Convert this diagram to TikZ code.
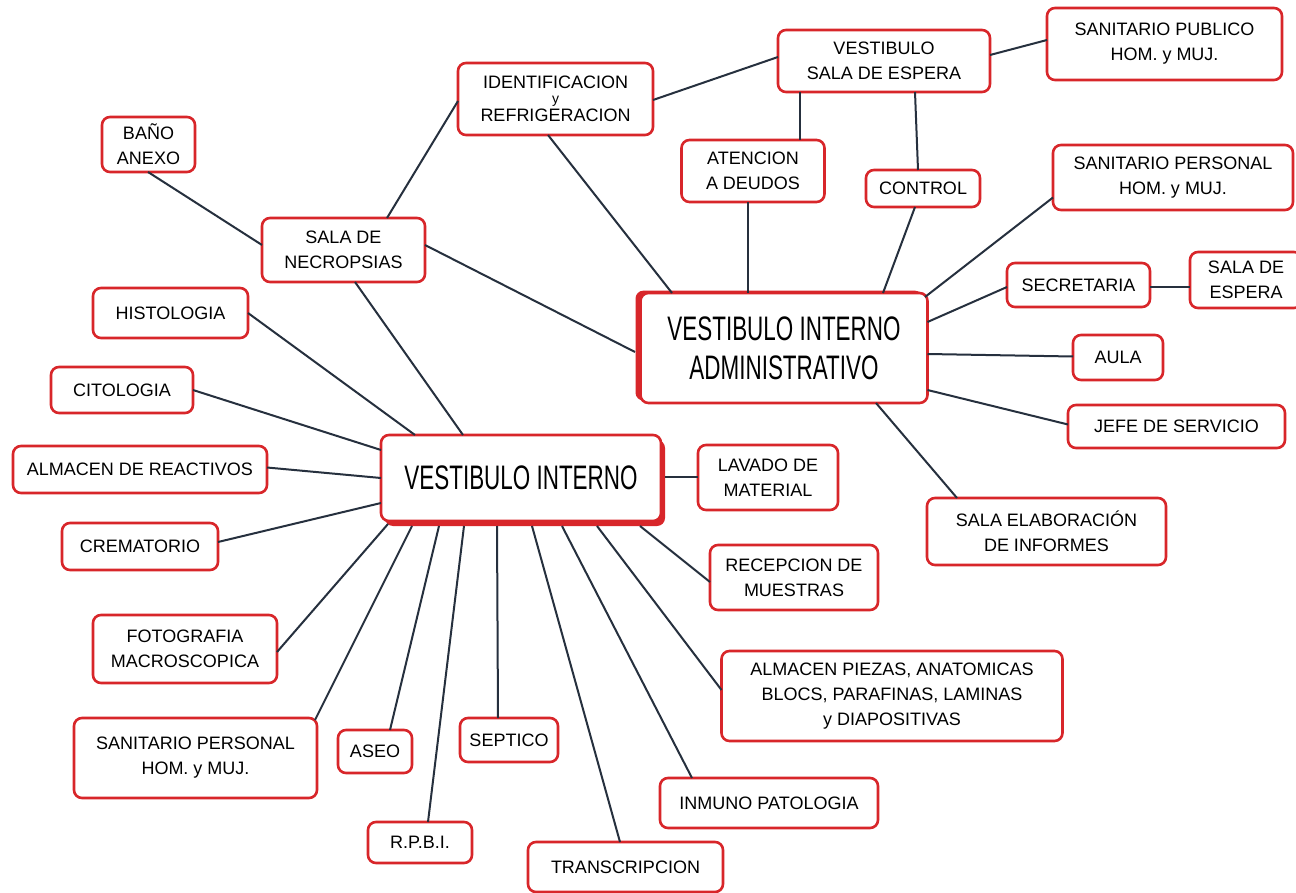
\documentclass[tikz,border=0pt]{standalone}
\usepackage{fontspec}
\setmainfont{Liberation Sans}
\newfontfamily\bigfont[FakeStretch=0.66]{Liberation Sans}
\usetikzlibrary{shadows}
\definecolor{boxred}{HTML}{D8262A}
\definecolor{ink}{HTML}{26303E}
\tikzset{
  bx/.style={draw=boxred, line width=1.3pt, rounded corners=4pt, fill=white,
    align=center, inner sep=0pt, text=black, font=\fontsize{9}{12.5}\selectfont},
  boxsize/.style 2 args={minimum width=#1*0.5pt, minimum height=#2*0.5pt},
  hub/.style={font=\bigfont\fontsize{17}{19.5}\selectfont},
  link/.style={draw=ink, line width=1pt},
}
\begin{document}
\begin{tikzpicture}[x=0.5pt,y=-0.5pt]
\fill[white] (0,0) rectangle (1296,893);
\useasboundingbox (0,0) rectangle (1296,893);

% top / right cluster
\node[bx, boxsize={195}{72}, font=\fontsize{9}{7.5}\selectfont] (ident) at (555.5,99) {IDENTIFICACION\\{\scriptsize y}\\REFRIGERACION};
\node[bx, boxsize={212}{62}] (vsala) at (884,61) {VESTIBULO\\SALA DE ESPERA};
\node[bx, boxsize={235}{72}] (sanpub) at (1164.5,44) {SANITARIO PUBLICO\\HOM. y MUJ.};
\node[bx, boxsize={143}{62}] (atencion) at (753,171) {ATENCION\\A DEUDOS};
\node[bx, boxsize={114}{37}] (control) at (923,188.5) {CONTROL};
\node[bx, boxsize={240}{65}] (sanperR) at (1173,177.5) {SANITARIO PERSONAL\\HOM. y MUJ.};
\node[bx, boxsize={143}{44}] (secre) at (1078.5,285) {SECRETARIA};
\node[bx, boxsize={112}{56}] (espera) at (1246,280) {SALA DE\\ESPERA};
\node[bx, boxsize={90}{45}] (aula) at (1118,357.5) {AULA};
\node[bx, boxsize={217}{43}] (jefe) at (1176.5,426.5) {JEFE DE SERVICIO};
\node[bx, boxsize={239}{67}] (elab) at (1046.5,531.5) {SALA ELABORACIÓN\\DE INFORMES};
\node[bx, hub, boxsize={287}{110},
  general shadow={shadow xshift=-2.5pt, shadow yshift=1.2pt, fill=boxred}] (via) at (784,348) {VESTIBULO INTERNO\\ADMINISTRATIVO};

% left / bottom cluster
\node[bx, boxsize={93}{55}] (bano) at (148.5,144.5) {BAÑO\\ANEXO};
\node[bx, boxsize={163}{64}] (necro) at (343.5,250) {SALA DE\\NECROPSIAS};
\node[bx, boxsize={155}{50}] (histo) at (170.5,313) {HISTOLOGIA};
\node[bx, boxsize={142}{46}] (cito) at (122,390) {CITOLOGIA};
\node[bx, boxsize={254}{47}] (react) at (140,469.5) {ALMACEN DE REACTIVOS};
\node[bx, hub, boxsize={280}{86},
  general shadow={shadow xshift=2pt, shadow yshift=-2.5pt, fill=boxred}] (vi) at (521,478) {VESTIBULO INTERNO};
\node[bx, boxsize={140}{65}] (lavado) at (768,477.5) {LAVADO DE\\MATERIAL};
\node[bx, boxsize={156}{47}] (crema) at (140,546.5) {CREMATORIO};
\node[bx, boxsize={168}{65}] (recep) at (794,577.5) {RECEPCION DE\\MUESTRAS};
\node[bx, boxsize={184}{68}] (foto) at (185,649) {FOTOGRAFIA\\MACROSCOPICA};
\node[bx, boxsize={341}{90}] (piezas) at (892,696) {ALMACEN PIEZAS, ANATOMICAS\\BLOCS, PARAFINAS, LAMINAS\\y DIAPOSITIVAS};
\node[bx, boxsize={243}{80}] (sanperL) at (195.5,758) {SANITARIO PERSONAL\\HOM. y MUJ.};
\node[bx, boxsize={74}{43}] (aseo) at (375,751.5) {ASEO};
\node[bx, boxsize={98}{44}] (septico) at (509,740) {SEPTICO};
\node[bx, boxsize={104}{41}] (rpbi) at (420,842.5) {R.P.B.I.};
\node[bx, boxsize={218}{50}] (inmuno) at (769,803) {INMUNO PATOLOGIA};
\node[bx, boxsize={195}{50}] (transc) at (625.5,867) {TRANSCRIPCION};

% connectors of the administrative hall
\draw[link] ([shift={(97.5,1)}]ident.center) -- ([shift={(-106,-4)}]vsala.center);
\draw[link] ([shift={(106,-6)}]vsala.center) -- ([shift={(-117.5,-4)}]sanpub.center);
\draw[link] ([shift={(-84,31)}]vsala.center) -- ([shift={(47,-31)}]atencion.center);
\draw[link] ([shift={(31,31)}]vsala.center) -- ([shift={(-5,-18.5)}]control.center);
\draw[link] ([shift={(-7.5,36)}]ident.center) -- ([shift={(-112,-55)}]via.center);
\draw[link] ([shift={(-5,31)}]atencion.center) -- ([shift={(-36,-55)}]via.center);
\draw[link] ([shift={(-8,18.5)}]control.center) -- ([shift={(99,-55)}]via.center);
\draw[link] ([shift={(-120,20)}]sanperR.center) -- ([shift={(141,-51)}]via.center);
\draw[link] ([shift={(-71.5,2)}]secre.center) -- ([shift={(143.5,-26)}]via.center);
\draw[link] ([shift={(71.5,2)}]secre.center) -- ([shift={(-56,7)}]espera.center);
\draw[link] ([shift={(-45,-1)}]aula.center) -- ([shift={(143.5,6)}]via.center);
\draw[link] ([shift={(-108.5,-2)}]jefe.center) -- ([shift={(143.5,42)}]via.center);
\draw[link] ([shift={(-89.5,-33.5)}]elab.center) -- ([shift={(92,55)}]via.center);

% connectors of the inner hall
\draw[link] ([shift={(43.5,-32)}]necro.center) -- ([shift={(-97.5,2)}]ident.center);
\draw[link] ([shift={(-0.5,27.5)}]bano.center) -- ([shift={(-81.5,-5)}]necro.center);
\draw[link] ([shift={(81.5,-5)}]necro.center) -- ([shift={(-149,4)}]via.center);
\draw[link] ([shift={(11.5,32)}]necro.center) -- ([shift={(-58,-43)}]vi.center);
\draw[link] ([shift={(77.5,0)}]histo.center) -- ([shift={(-106,-43)}]vi.center);
\draw[link] ([shift={(71,0)}]cito.center) -- ([shift={(-140,-28)}]vi.center);
\draw[link] ([shift={(127,-2)}]react.center) -- ([shift={(-140,0)}]vi.center);
\draw[link] ([shift={(78,-4.5)}]crema.center) -- ([shift={(-140,25)}]vi.center);
\draw[link] ([shift={(92,3)}]foto.center) -- ([shift={(-133,46)}]vi.center);
\draw[link] ([shift={(119.5,-38)}]sanperL.center) -- ([shift={(-109,48)}]vi.center);
\draw[link] ([shift={(15,-21.5)}]aseo.center) -- ([shift={(-82,48)}]vi.center);
\draw[link] ([shift={(8,-20.5)}]rpbi.center) -- ([shift={(-57,48)}]vi.center);
\draw[link] ([shift={(-11,-22)}]septico.center) -- ([shift={(-24,48)}]vi.center);
\draw[link] ([shift={(-5.5,-25)}]transc.center) -- ([shift={(11,48)}]vi.center);
\draw[link] ([shift={(-77,-25)}]inmuno.center) -- ([shift={(41,48)}]vi.center);
\draw[link] ([shift={(-170.5,-6)}]piezas.center) -- ([shift={(76,48)}]vi.center);
\draw[link] ([shift={(-84,4.5)}]recep.center) -- ([shift={(119,48)}]vi.center);
\draw[link] ([shift={(-70,-0.5)}]lavado.center) -- ([shift={(144,-1)}]vi.center);
\end{tikzpicture}
\end{document}
